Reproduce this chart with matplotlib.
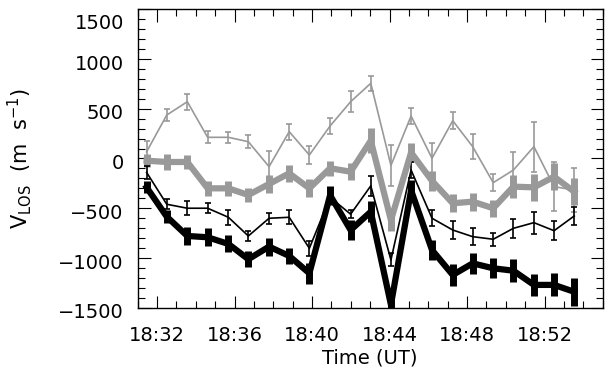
import numpy as np
import matplotlib
matplotlib.use("Agg")
import matplotlib.pyplot as plt
from matplotlib.ticker import MultipleLocator, FuncFormatter
from matplotlib.transforms import ScaledTranslation

# minutes after 18:00 UT
minutos = [31.46, 32.50, 33.56, 34.61, 35.68, 36.71, 37.78, 38.82, 39.86, 40.93, 41.99,
           43.03, 44.07, 45.11, 46.19, 47.26, 48.29, 49.35, 50.39, 51.45, 52.49, 53.53]

# thin gray
v_cinza_fino = [68, 437, 571, 213, 213, 169, -82, 270, 35, 327, 571,
                756, -70, 427, 2, 380, 119, -243, -116, 119, -283, -317]
e_cinza_fino = [108, 62, 80, 62, 55, 67, 155, 80, 92, 78, 105,
                75, 210, 78, 150, 88, 125, 88, 178, 250, 245, 220]

# thick gray
v_cinza_grosso = [-22, -35, -35, -300, -300, -367, -256, -149, -300, -98, -133,
                  180, -620, 60, -225, -450, -434, -500, -283, -290, -183, -334]
e_cinza_grosso = [65, 80, 70, 75, 75, 70, 90, 85, 90, 75, 85,
                  125, 110, 100, 100, 90, 90, 85, 115, 135, 135, 135]

# thin black
v_preto_fino = [-140, -460, -500, -500, -591, -779, -601, -591, -903, -390, -560,
                -275, -1020, -116, -601, -719, -786, -812, -702, -645, -726, -578]
e_preto_fino = [65, 50, 70, 50, 75, 55, 55, 70, 75, 60, 40,
                100, 65, 85, 80, 90, 85, 65, 95, 110, 95, 90]

# thick black
v_preto_grosso = [-290, -585, -779, -792, -859, -1013, -886, -980, -1154, -370, -720,
                  -535, -1470, -320, -920, -1171, -1054, -1104, -1128, -1271, -1271, -1340]
e_preto_grosso = [60, 65, 90, 90, 85, 80, 90, 85, 105, 95, 100,
                  105, 80, 100, 105, 115, 105, 100, 115, 110, 115, 140]

cinza = '#999999'

plt.rcParams['font.family'] = 'DejaVu Sans'
plt.rcParams['font.size'] = 14

fig = plt.figure(figsize=(6.05, 3.8), dpi=100)
ax = fig.add_axes([0.2276, 0.1903, 0.9962 - 0.2276, 0.9755 - 0.1903])

ax.errorbar(minutos, v_cinza_fino, yerr=e_cinza_fino, color=cinza, lw=1.2,
            elinewidth=1.2, capsize=2.5, capthick=1.2)
ax.errorbar(minutos, v_cinza_grosso, yerr=e_cinza_grosso, color=cinza, lw=4.5,
            elinewidth=5, capsize=0)
ax.errorbar(minutos, v_preto_fino, yerr=e_preto_fino, color='black', lw=1.2,
            elinewidth=1.2, capsize=2.5, capthick=1.2)
ax.errorbar(minutos, v_preto_grosso, yerr=e_preto_grosso, color='black', lw=4.5,
            elinewidth=5, capsize=0)

ax.set_xlim(31, 55)
ax.set_ylim(-1500, 1500)
ax.xaxis.set_major_locator(MultipleLocator(4))
ax.xaxis.set_minor_locator(MultipleLocator(1))
ax.yaxis.set_major_locator(MultipleLocator(500))
ax.yaxis.set_minor_locator(MultipleLocator(100))
ax.xaxis.set_major_formatter(FuncFormatter(lambda m, p: '18:%02d' % int(round(m))))
ax.yaxis.set_major_formatter(FuncFormatter(lambda v, p: ('%d' % v).replace('-', '\u2212')))
ax.tick_params(which='both', direction='in', top=True, right=True, width=0.8)
ax.tick_params(which='major', length=9)
ax.tick_params(which='minor', length=5)
ax.tick_params(axis='x', pad=13)
ax.tick_params(axis='y', pad=10)
for s in ax.spines.values():
    s.set_linewidth(1.0)

ax.set_xlabel('Time (UT)', labelpad=3)
ax.set_ylabel(r'V$_{\rm LOS}$  (m  s$^{-1}$)', fontsize=15)
ax.yaxis.set_label_coords(-0.224, 0.5)

# y tick labels sit a little below their ticks, the top one more so
fig.canvas.draw()
for t in ax.yaxis.get_major_ticks():
    desce = 8.6 if abs(t.get_loc() - 1500) < 1 else 2.2
    t.label1.set_transform(t.label1.get_transform() +
                           ScaledTranslation(0, -desce / 72, fig.dpi_scale_trans))

fig.savefig('out.png', dpi=100)
